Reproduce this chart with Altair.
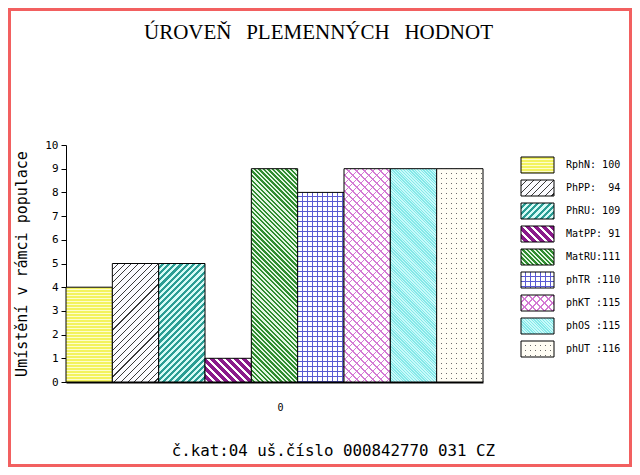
import math
import altair as alt
import pandas as pd

# ---------------- data ----------------
names = ["RphN", "PhPP", "PhRU", "MatPP", "MatRU", "phTR", "phKT", "phOS", "phUT"]
ranks = [4, 5, 5, 1, 9, 8, 9, 9, 9]
legend_labels = ["RphN: 100", "PhPP:  94", "PhRU: 109", "MatPP: 91", "MatRU:111",
                 "phTR :110", "phKT :115", "phOS :115", "phUT :116"]
group_label = "0"
y_ticks = list(range(0, 11))
title_text = "ÚROVEŇ  PLEMENNÝCH  HODNOT"
y_title = "Umístění v rámci populace"
footer_text = "č.kat:04 uš.číslo 000842770 031 CZ"

NB = "\u00a0"
df = pd.DataFrame({
    "grp": [group_label] * len(names),
    "name": names,
    "rank": ranks,
    "lab": [s.replace(" ", NB) for s in legend_labels],
})

# ---------------- layout / style ----------------
MONO = "DejaVu Sans Mono"
SERIF = "Liberation Serif"
VIEW_W, VIEW_H = 417, 237
PAD = {"left": 58, "top": 137, "right": 149, "bottom": 85}
TOTAL_W = VIEW_W + PAD["left"] + PAD["right"]
TOTAL_H = VIEW_H + PAD["top"] + PAD["bottom"]
BAR_W = VIEW_W / len(names)
SW_X, SW_W, SW_H = 455, 33, 16
CLEAR = "rgba(255,255,255,0)"

# pattern layers per series: (direction, [(colour, width px), ...])
patterns = {
    "RphN": [("h", [("#f3f35e", 2), ("#fdfdcc", 1)])],
    "PhPP": [("/", [("#fbfbff", 4.0), ("#3a3a3a", 0.75)])],
    "PhRU": [("/", [("#d6fbf6", 2.2), ("#2a9d94", 2.2)])],
    "MatPP": [("\\", [("#ffffff", 2.5), ("#8a1a8a", 3.2)])],
    "MatRU": [("\\", [("#e2f6e2", 1.6), ("#2f8c2f", 1.6)])],
    "phTR": [("h", [("#ffffff", 4), ("#5a5ad2", 1)]),
             ("v", [(CLEAR, 4), ("#5a5ad2", 1)])],
    "phKT": [("/", [("#ffffff", 4.66), ("#d47ad4", 1.0)]),
             ("\\", [(CLEAR, 4.66), ("#d47ad4", 1.0)])],
    "phOS": [("\\", [("#c8fafa", 1), ("#84e8e8", 1)])],
    "phUT": [("v", [("#fffdf4", 4), ("#6a6a6a", 1)]),
             ("h", [("#fffdf4", 4), (CLEAR, 1)])],
}


def gradient(direction, bands, w, h):
    if direction == "h":
        x1, y1, x2, y2, span = 0, 0, 0, 1, h
    elif direction == "v":
        x1, y1, x2, y2, span = 0, 0, 1, 0, w
    else:
        k = (w + h) / (w * w + h * h)
        span = (w + h) / math.sqrt(2)
        if direction == "/":
            x1, y1, x2, y2 = 0, 0, k * w, k * h
        else:
            x1, y1, x2, y2 = 0, 1, k * w, 1 - k * h
    stops = []
    pos = 0.0
    while pos < span:
        for colour, width in bands:
            a = min(pos / span, 1.0)
            b = min((pos + width) / span, 1.0)
            stops.append({"offset": round(a, 5), "color": colour})
            stops.append({"offset": round(b, 5), "color": colour})
            pos += width
            if pos >= span:
                break
    return {"gradient": "linear", "x1": round(x1, 5), "y1": round(y1, 5),
            "x2": round(x2, 5), "y2": round(y2, 5), "stops": stops}


x_axis = alt.Axis(title=None, labelAngle=0, ticks=False, tickSize=0, labelPadding=20,
                  labelFont=MONO, labelFontSize=10, labelColor="black",
                  domainColor="black", domainWidth=2, labelOffset=6, grid=False)
y_axis = alt.Axis(values=y_ticks, format="d", title=y_title, titleFont=MONO,
                  titleFontSize=15, titleFontWeight="normal", titleColor="black",
                  titleAngle=270, titleX=-45, titleY=VIEW_H / 2, titleAlign="center",
                  titleBaseline="middle", labelFont=MONO, labelFontSize=11,
                  labelColor="black", tickColor="black", tickSize=5, labelPadding=3,
                  domainColor="black", grid=False)

X = alt.X("grp:N", scale=alt.Scale(paddingInner=0, paddingOuter=0), axis=x_axis)
XO = alt.XOffset("name:N", scale=alt.Scale(domain=names, paddingInner=0, paddingOuter=0))
Y = alt.Y("rank:Q", scale=alt.Scale(domain=[0, 10], nice=False), axis=y_axis)

step = 23
leg_scale = alt.Scale(type="band", domain=names, range=[12 - 3.5, 12 - 3.5 + step * len(names)],
                      paddingInner=7 / step, paddingOuter=3.5 / step)
LY = alt.Y("name:N", scale=leg_scale, axis=None)

bar_layers = []
swatch_layers = []
for i, n in enumerate(names):
    d = df[df["name"] == n]
    h = ranks[i] / 10 * VIEW_H
    layers = patterns[n]
    for j, (direction, bands) in enumerate(layers):
        last = j == len(layers) - 1
        kw = {"stroke": "black", "strokeWidth": 1} if last else {"strokeWidth": 0}
        bar_layers.append(
            alt.Chart(d).mark_bar(fill=gradient(direction, bands, BAR_W, h), **kw)
            .encode(x=X, xOffset=XO, y=Y)
        )
        swatch_layers.append(
            alt.Chart(d).mark_rect(fill=gradient(direction, bands, SW_W, SW_H), **kw)
            .encode(x=alt.value(SW_X), x2=alt.value(SW_X + SW_W), y=LY)
        )

legend_text = alt.Chart(df).mark_text(
    align="left", baseline="middle", font=MONO, fontSize=10, color="black"
).encode(x=alt.value(500), y=LY, text="lab:N")

bars = alt.layer(*bar_layers)
legend = alt.layer(*swatch_layers, legend_text)

title_str = title_text.replace("  ", NB + NB + "\u2009")
title = alt.Chart(alt.Data(values=[{"t": title_str}])).mark_text(
    font=SERIF, fontSize=21, align="center", baseline="middle", color="black"
).encode(x=alt.value(252.5), y=alt.value(-112), text="t:N")

footer = alt.Chart(alt.Data(values=[{"t": footer_text}])).mark_text(
    font=MONO, fontSize=15.8, align="center", baseline="middle", color="black"
).encode(x=alt.value(267.4), y=alt.value(306), text="t:N")

frame = alt.Chart(alt.Data(values=[{"f": 1}])).mark_rect(
    fill="transparent", stroke="#f26060", strokeWidth=3
).encode(
    x=alt.value(-PAD["left"] + 1.5), x2=alt.value(TOTAL_W - PAD["left"] - 1.5),
    y=alt.value(-PAD["top"] + 1.5), y2=alt.value(TOTAL_H - PAD["top"] - 1.5),
)

chart = alt.layer(bars, legend, title, footer, frame).resolve_scale(
    y="independent"
).properties(
    width=VIEW_W, height=VIEW_H,
    autosize=alt.AutoSizeParams(type="none"),
    padding=PAD,
    background="white",
).configure_view(strokeWidth=0)

chart.save("out.html", embed_options={"renderer": "svg", "actions": False})
